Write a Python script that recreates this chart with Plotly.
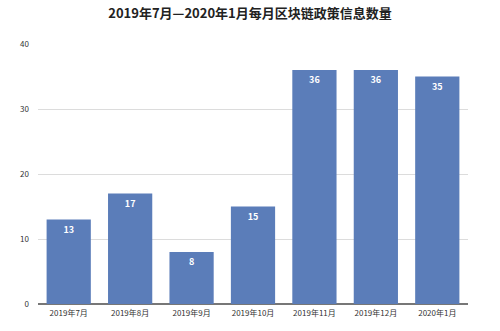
import plotly.graph_objects as go

categories = ["2019年7月", "2019年8月", "2019年9月", "2019年10月", "2019年11月", "2019年12月", "2020年1月"]
values = [13, 17, 8, 15, 36, 36, 35]
y_ticks = [0, 10, 20, 30, 40]

fig = go.Figure(go.Bar(
    x=categories, y=values,
    marker=dict(color="#5B7DB9", line=dict(width=0)),
    text=[f"<b>{v}</b>" for v in values],
    textposition="inside", insidetextanchor="end",
    textfont=dict(color="white", size=9, family="Noto Sans CJK SC"),
    cliponaxis=False,
))

fig.update_layout(
    width=500, height=331,
    margin=dict(l=38, r=32, t=44, b=27),
    paper_bgcolor="white", plot_bgcolor="white",
    bargap=0.28,
    showlegend=False,
    font=dict(family="Noto Sans CJK SC", color="#333"),
    title=dict(text="<b>2019年7月—2020年1月每月区块链政策信息数量</b>",
               x=0.5, xanchor="center", y=0.96, yanchor="middle",
               font=dict(size=13, color="#222")),
    xaxis=dict(showgrid=False, showline=False, ticks="",
               tickfont=dict(size=8, color="#333"), ticklabelstandoff=3),
    yaxis=dict(range=[0, 40], tickvals=y_ticks, showgrid=True, gridcolor="#dcdcdc",
               gridwidth=1, zeroline=True, zerolinecolor="#777", zerolinewidth=1.5,
               showline=False, ticks="", tickfont=dict(size=8, color="#333"),
               ticklabelstandoff=8),
)

fig.write_html("out.html")
